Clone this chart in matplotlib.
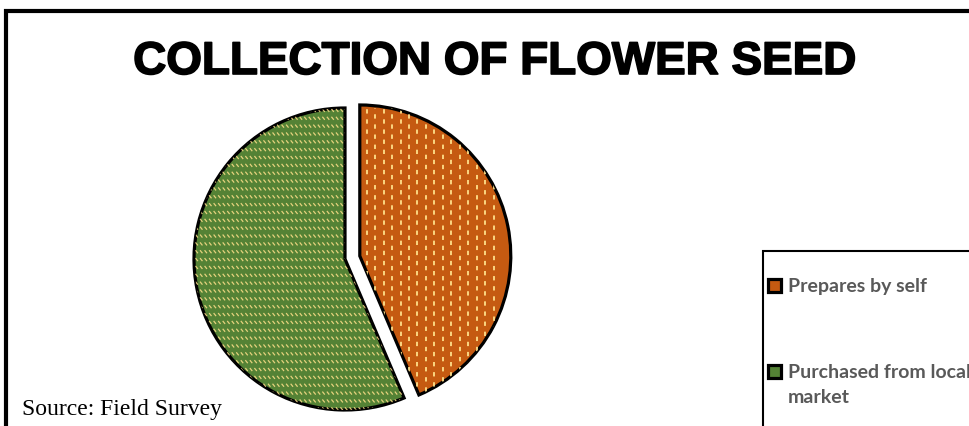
import matplotlib
matplotlib.use("Agg")
import matplotlib.pyplot as plt
import matplotlib.patheffects as pe
import numpy as np
from matplotlib.patches import Rectangle
from matplotlib.collections import LineCollection

categories = ["Prepares by self", "Purchased from local\nmarket"]
shares = [43.6, 56.4]
colors = ["#C55A11", "#548235"]
pattern_color = "#FFE08A"

W, H = 969, 427
fig = plt.figure(figsize=(W / 100, H / 100), dpi=100)

# outer chart frame (runs off the right and bottom edges)
fig.add_artist(Rectangle((6 / W, -0.2), 1.2, (H - 12) / H + 0.2, transform=fig.transFigure,
                         fill=False, edgecolor="black", linewidth=3))

title = fig.text(495 / W, 1 - 63 / H, "COLLECTION OF FLOWER SEED", ha="center", va="center",
                 fontsize=33, fontweight="bold", family="Liberation Sans")
title.set_path_effects([pe.Stroke(linewidth=1.2, foreground="black"), pe.Normal()])

# pie axes: center ~ (345, 260) px, radius ~151 px
r = 151
ax = fig.add_axes([(345 - r) / W, (H - 260 - r) / H, 2 * r / W, 2 * r / H])
wedges, _ = ax.pie(shares, colors=colors, startangle=90, counterclock=False,
                   explode=[0.1, 0], radius=1,
                   wedgeprops=dict(edgecolor="black", linewidth=2.3))
ax.set_xlim(-1, 1)
ax.set_ylim(-1, 1)
ax.set_aspect("equal")
ax.axis("off")
for w in wedges:
    w.set_clip_on(False)

# orange slice: staggered vertical dashes
xs = np.arange(-1.2, 1.3, 0.056)
for i, x in enumerate(xs):
    ln, = ax.plot([x, x], [-1.2, 1.2], color=pattern_color, lw=1.3,
                  linestyle=(0 if i % 2 == 0 else 2.8, (2.4, 3.2)))
    ln.set_clip_path(wedges[0])
    ln.set_zorder(wedges[0].get_zorder() + 0.1)

# green slice: rows of short diagonal strokes
segs = []
for y in np.arange(-1.2, 1.2, 0.052):
    for x in np.arange(-1.2, 1.2, 0.03):
        segs.append([(x, y + 0.01), (x + 0.016, y - 0.01)])
lc = LineCollection(segs, colors=pattern_color, linewidths=0.9, alpha=0.85)
ax.add_collection(lc)
lc.set_clip_path(wedges[1])

# legend box (runs off the right and bottom edges)
fig.add_artist(Rectangle((763 / W, -0.2), 0.5, (H - 252) / H + 0.2, transform=fig.transFigure,
                         fill=False, edgecolor="black", linewidth=1.5))
y0, step, sq = 286, 86, 13
for i, (lab, col) in enumerate(zip(categories, colors)):
    yc = y0 + i * step
    fig.add_artist(Rectangle((768 / W, 1 - (yc + sq / 2) / H), sq / W, sq / H,
                             transform=fig.transFigure, facecolor=col,
                             edgecolor="black", linewidth=2.3))
    fig.text(788 / W, 1 - (yc - 8) / H, lab, ha="left", va="top", color="#595959",
             family="Lato", fontweight="bold", fontsize=14, linespacing=1.6)

fig.text(22 / W, 1 - 415 / H, "Source: Field Survey", ha="left", va="baseline",
         fontsize=17, family="Liberation Serif")

fig.savefig("out.png", dpi=100)
